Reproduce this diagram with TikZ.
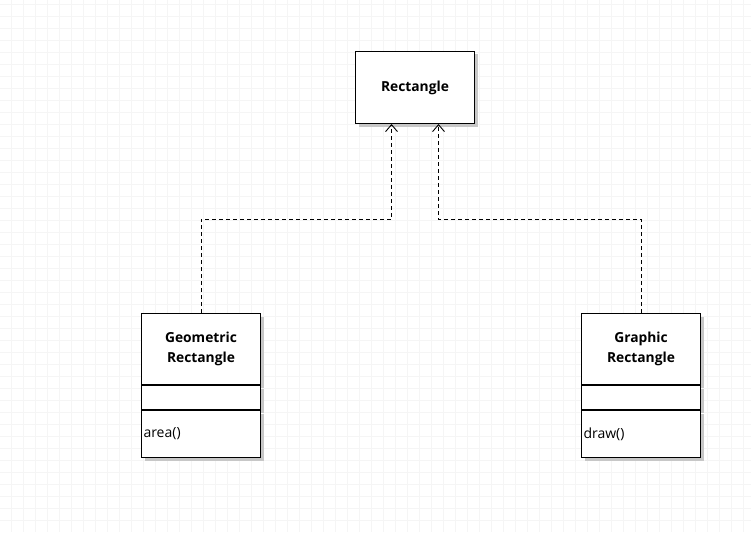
\documentclass[tikz,border=0pt]{standalone}
\usepackage{fontspec}
\setmainfont{Open Sans}
\usetikzlibrary{arrows.meta,shadows}

\tikzset{
  gridline/.style={draw=black!4, line width=0.5pt},
  umlbox/.style={draw, fill=white, line width=1pt, anchor=north west,
    text width=115pt, inner xsep=2pt, inner ysep=0pt,
    drop shadow={shadow xshift=3pt, shadow yshift=-3pt, fill=black!22, opacity=1}},
  classname/.style={umlbox, align=center, font=\bfseries\fontsize{13.8}{20}\selectfont},
  members/.style={umlbox, align=left, font=\fontsize{14}{16}\selectfont},
  realize/.style={dashed, dash pattern=on 4pt off 3pt, line width=0.9pt,
    -{Straight Barb[length=7pt,width=12pt,line width=0.9pt]}}
}

\begin{document}
\begin{tikzpicture}[x=1pt,y=-1pt]
  \useasboundingbox (0,0) rectangle (751,532);
  % background grid
  \foreach \gx in {11,23,...,749} \draw[gridline] (\gx,0) -- (\gx,532);
  \foreach \gy in {4,16,...,530} \draw[gridline] (0,\gy) -- (751,\gy);

  % interface
  \node[classname, minimum height=72pt] (rect) at (355,51) {Rectangle};

  % left class
  \node[classname, minimum height=71pt] (geohead) at (141,313) {Geometric\\Rectangle};
  \node[members, minimum height=24pt] (geoattr) at (geohead.south west) {};
  \node[members, minimum height=47pt] (geoops) at (geoattr.south west) {area()};

  % right class
  \node[classname, minimum height=71pt] (grahead) at (581,313) {Graphic\\Rectangle};
  \node[members, minimum height=24pt] (graattr) at (grahead.south west) {};
  \node[members, minimum height=47pt] (graops) at (graattr.south west) {draw()};

  \coordinate (rectL) at ([xshift=-23.5pt]rect.south);
  \coordinate (rectR) at ([xshift=23.5pt]rect.south);

  \draw[realize] (geohead.north) |- ([yshift=-95pt]rectL) -- (rectL);
  \draw[realize] (grahead.north) |- ([yshift=-95pt]rectR) -- (rectR);
\end{tikzpicture}
\end{document}
